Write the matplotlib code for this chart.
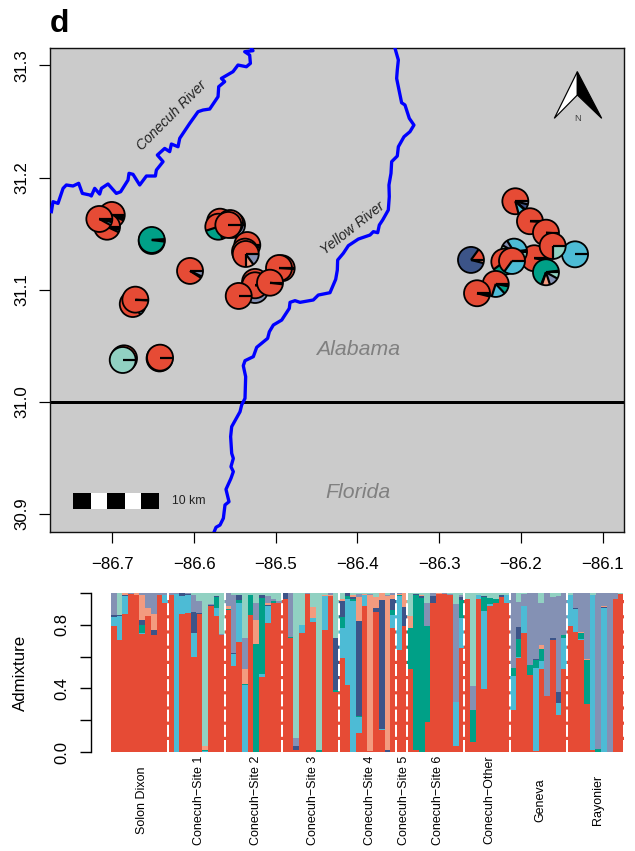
import matplotlib
matplotlib.use("Agg")
import matplotlib.pyplot as plt
import numpy as np
from matplotlib.patches import Wedge, Circle, Polygon, Rectangle
from matplotlib.lines import Line2D
from matplotlib.transforms import Affine2D, ScaledTranslation

plt.rcParams['font.family'] = ['Liberation Sans', 'DejaVu Sans']

W, H = 635, 851
colors = ['#E64B35', '#4DBBD5', '#00A087', '#3C5488', '#F39B7F', '#8491B4', '#91D1C2']

lon_ticks = [-86.7, -86.6, -86.5, -86.4, -86.3, -86.2, -86.1]
lat_ticks = [30.9, 31.0, 31.1, 31.2, 31.3]

conecuh_lon = [-86.7746, -86.7726, -86.7665, -86.7603, -86.7563, -86.7481, -86.7412, -86.7367, -86.7277, -86.7257,
               -86.7216, -86.7155, -86.7134, -86.7053, -86.6951, -86.6898, -86.6808, -86.6796, -86.6747, -86.6665,
               -86.6583, -86.6473, -86.6461, -86.6379, -86.6449, -86.6359, -86.6298, -86.6277, -86.6196, -86.6175,
               -86.6053, -86.5951, -86.5890, -86.5808, -86.5706, -86.5698, -86.5625, -86.5665, -86.5523, -86.5462,
               -86.5359, -86.5310, -86.5319, -86.5380, -86.5278, -86.5306]
conecuh_lat = [31.1696, 31.1785, 31.1770, 31.1904, 31.1934, 31.1925, 31.1949, 31.1859, 31.1845, 31.1836,
               31.1904, 31.1853, 31.1904, 31.1943, 31.1859, 31.1874, 31.1978, 31.2038, 31.2029, 31.1934,
               31.2014, 31.2014, 31.2067, 31.2142, 31.2201, 31.2260, 31.2231, 31.2299, 31.2275, 31.2350,
               31.2483, 31.2587, 31.2602, 31.2611, 31.2721, 31.2810, 31.2855, 31.2884, 31.2944, 31.3003,
               31.2988, 31.3018, 31.3092, 31.3122, 31.3131, 31.3161]

yellow_lon = [-86.3540, -86.3499, -86.3512, -86.3520, -86.3487, -86.3459, -86.3418, -86.3365, -86.3308, -86.3357,
              -86.3430, -86.3499, -86.3512, -86.3581, -86.3589, -86.3614, -86.3610, -86.3622, -86.3691, -86.3732,
              -86.3752, -86.3805, -86.3846, -86.3989, -86.4111, -86.4173, -86.4242, -86.4246, -86.4266,
              -86.4336, -86.4479, -86.4540, -86.4703, -86.4764, -86.4825, -86.4834, -86.4927, -86.5029, -86.5078,
              -86.5099, -86.5233, -86.5274, -86.5376, -86.5397, -86.5368, -86.5376, -86.5417, -86.5437, -86.5539,
              -86.5552, -86.5539, -86.5519, -86.5548, -86.5519, -86.5548, -86.5609, -86.5572, -86.5621, -86.5641,
              -86.5682, -86.5731, -86.5756]
yellow_lat = [31.3152, 31.3048, 31.2959, 31.2884, 31.2766, 31.2667, 31.2647, 31.2528, 31.2468, 31.2409,
              31.2364, 31.2275, 31.2192, 31.2142, 31.2038, 31.1934, 31.1830, 31.1711, 31.1622, 31.1577,
              31.1509, 31.1518, 31.1488, 31.1452, 31.1393, 31.1325, 31.1265, 31.1176, 31.1093,
              31.0974, 31.0953, 31.0909, 31.0888, 31.0903, 31.0888, 31.0834, 31.0730, 31.0686, 31.0626,
              31.0567, 31.0487, 31.0404, 31.0368, 31.0323, 31.0225, 31.0032, 30.9973, 30.9913, 30.9780,
              30.9691, 30.9542, 30.9497, 30.9423, 30.9379, 30.9319, 30.9221, 30.9111, 30.9082, 30.8963,
              30.8903, 30.8883, 30.8838]

# pies, drawn in this order: lon, lat, shares (7 ancestry clusters)
pie_lon = [-86.7007, -86.7065, -86.7159, -86.6518, -86.6518, -86.6049, -86.6750, -86.6718, -86.6857, -86.6873,
           -86.6422, -86.6416, -86.5682, -86.5535, -86.5559, -86.5703, -86.5580, -86.5348, -86.5376, -86.5367,
           -86.5253, -86.5253, -86.5253, -86.4927, -86.4960, -86.5070, -86.5453,
           -86.1336, -86.2067, -86.1888, -86.1692, -86.1835, -86.1610, -86.2083, -86.2202, -86.2108, -86.1692,
           -86.2307, -86.2536, -86.2610]
pie_lat = [31.1667, 31.1562, 31.1631, 31.1435, 31.1444, 31.1168, 31.0873, 31.0912, 31.0389, 31.0374,
           31.0388, 31.0395, 31.1607, 31.1578, 31.1595, 31.1562, 31.1578, 31.1399, 31.1340, 31.1319,
           31.0998, 31.1070, 31.1040, 31.1192, 31.1194, 31.1063, 31.0945,
           31.1316, 31.1789, 31.1611, 31.1509, 31.1281, 31.1390, 31.1340, 31.1250, 31.1257, 31.1156,
           31.1052, 31.0969, 31.1266]
pie_shares = [
    [.93, 0, .02, .02, 0, 0, .03], [.93, .03, 0, 0, 0, .02, .02], [.92, .04, 0, .01, 0, .03, 0],
    [.01, 0, .99, 0, 0, 0, 0], [.01, 0, .97, 0, 0, 0, .02], [.91, 0, 0, .02, 0, .07, 0],
    [.85, .05, 0, 0, 0, .10, 0], [.99, 0, 0, 0, 0, .01, 0], [.99, 0, 0, 0, 0, .01, 0], [0, 0, 0, 0, 0, 0, 1],
    [1, 0, 0, 0, 0, 0, 0], [1, 0, 0, 0, 0, 0, 0], [.9, 0, 0, 0, 0, .1, 0], [.8, 0, 0, 0, 0, .2, 0],
    [.95, .05, 0, 0, 0, 0, 0], [.55, 0, .25, 0, 0, .2, 0], [1, 0, 0, 0, 0, 0, 0], [.97, 0, 0, 0, 0, .03, 0],
    [.97, 0, 0, 0, 0, .03, 0], [.75, 0, 0, 0, .10, .15, 0],
    [.6, 0, 0, 0, 0, .4, 0], [.98, 0, 0, 0, 0, .02, 0], [.98, 0, 0, 0, 0, .02, 0],
    [.99, 0, 0, 0, 0, .01, 0], [.99, 0, 0, 0, 0, .01, 0], [.98, 0, 0, 0, 0, .02, 0], [1, 0, 0, 0, 0, 0, 0],
    [0, 1, 0, 0, 0, 0, 0], [.79, .09, .01, .07, 0, .04, 0], [.99, 0, 0, 0, 0, .01, 0], [.99, 0, 0, 0, 0, .01, 0],
    [.97, 0, 0, 0, 0, .03, 0], [.75, 0, 0, 0, 0, 0, .25], [.02, .32, 0, 0, 0, .08, .58], [.6, 0, .4, 0, 0, 0, 0],
    [.65, .35, 0, 0, 0, 0, 0], [.01, .01, .67, .01, .10, .12, .08], [.70, .17, .10, .03, 0, 0, 0],
    [.96, 0, .02, .01, .01, 0, 0], [.15, 0, 0, .81, .04, 0, 0]]

# admixture barplot, one row per individual: red, blue, green, navy, salmon, periwinkle, mint
solon_dixon = [[79, 6, 0, 1, 0, 14, 0], [70.5, 15, 0, .5, 0, 0, 14], [87, 11, 0, .5, 1.5, 0, 0], [99.4, 0, 0, 0, 0, .6, 0],
               [99, 0, 0, 0, 1, 0, 0], [74, 1, 5, 3, 16, 1, 0], [85.5, 0, 0, 0, 5, 9.5, 0], [73.5, 0, 0, 3, 10, 13.5, 0],
               [99, 0, 0, 0, 0, 1, 0], [94, 5, 0, 0, 0, 1, 0]]
site_1 = [[99, 0, 0, 0, 0, 1, 0], [0, 99.5, 0, 0, 0, .5, 0], [87, 11, 0, 2, 0, 0, 0], [87.5, 11, 0, 1, 0, .5, 0],
          [60, 15, 0, 13, 0, 11, 1], [87, 0, 0, .5, 0, 7.5, 5], [0, .5, .5, 0, 3, 0, 96], [92, 0, 0, .5, 0, .5, 7],
          [85.5, 5, 7, .5, 0, 0, 2], [73.5, 0, 0, 0, 0, .5, 26]]
site_2 = [[89.5, 0, .5, 0, 2, 8, 0], [54, 7.5, 0, 1, 0, 36.5, 1], [69, 24.5, 2, 3.5, 0, 0, 1], [0, 42, 1, 0, 9.5, 19.5, 28],
          [86, 0, 12.5, 0, 0, 0, 1.5], [0, 0, 68, 0, 15, 11, 6], [47, 2, 48, 2, 0, 0, 1], [81, 11, 0, .5, 1, 4.5, 2],
          [94, 0, 1, 0, 0, 1, 4], [94, 0, 0, 0, 0, 1, 5]]
site_3 = [[96, 0, .5, 3.5, 0, 0, 0], [72, 0, .5, 0, 0, 27.5, 0], [1.5, 0, 0, 2, 0, 5, 91.5], [75, 5, 0, 0, 0, 0, 20],
          [99.5, 0, 0, 0, 0, .5, 0], [82, 2, 0, 0, 7, 0, 9], [0, 0, 1, 0, 0, 0, 99], [77, 21, 0, 0, 1, 0, 1],
          [98, 0, 0, 0, 1, 1, 0], [38, 0, 1, 33, 0, 0, 28]]
site_4 = [[59, 19, 7, 10, 1, 0, 4], [42, 54, 2, 2, 0, 0, 0], [0, 95, 1.5, 1, 1, .5, 1], [12, 10, .5, 60, 15, 2, .5],
          [92, 6.5, 0, 0, 1, 0, .5], [.5, 0, 0, 0, 98, 1, .5], [88, 0, 0, 2.5, 7, 0, 2.5], [14, .5, 0, 81, 4.5, 0, 0],
          [0, 0, 0, 1, 97, 1, 1], [78, 8, 3, 7, 3, 1, 0]]
site_5 = [[64, 34, .5, 0, 1, .5, 0], [79, 0, 0, 12, 9, 0, 0]]
site_6 = [[52, 0, 26, 0, 7.5, 0, 14.5], [1, 0, 97.5, 1, 0, 0, .5], [0, 0, 97, 1, 1, 0, 1], [19, 0, 60, .5, 0, 14, 6.5],
          [94, 0, 0, 4, 0, 2, 0], [99.5, 0, 0, 0, .5, 0, 0], [99.5, 0, 0, 0, 0, .5, 0], [98.5, 0, 0, 0, 0, 1, .5],
          [4, 27.5, 0, 0, 0, 61.5, 7], [65.5, 19, 11, 2, 0, 1, 1.5]]
site_other = [[96, 0, 0, 0, 0, 0, 4], [6, 0, 20.5, 0, 0, 15, 58.5], [96.5, 2, 0, .5, 0, 0, 1], [39.5, 49, 9, .5, 0, 0, 2],
              [92, 1, 4, 0, 0, 0, 3], [94, 0, 2, 0, 0, 0, 4], [97.5, 0, 0, 1, .5, 0, 1], [94, 5, 0, 0, 0, 0, 1]]
geneva = [[26.5, 21, 5.5, 0, 0, 47, 0], [59, 1, 11, 7.5, 0, 16, 5.5], [75, 17, 0, 0, 0, 7.4, .6], [48.5, 0, 6.5, 0, 0, 45, 0],
          [.8, 52, 5, .5, 0, 41.7, 0], [52, 5.5, 7.5, 0, 2, 26.5, 6.5], [35, 0, 0, 0, .5, 64.5, 0], [70.5, 0, 0, 1, .5, 25.5, 2.5],
          [23, 8, 0, 7, 0, 60, 2], [52.5, 19, 2, 0, 0, 26.5, 0]]
rayonier = [[79, 20, 0, 0, 0, 0, 1], [75.5, 14.5, 0, .5, 0, 9.5, 0], [70.5, .5, 4, 0, .5, 24.5, 0], [30, 0, 28, 0, .5, 41.5, 0],
            [1.5, 97, 0, 0, 0, .5, 1], [0, 0, 2, 0, 0, 98, 0], [0, 90.5, 0, .5, 1, 8, 0], [0, 0, 0, 0, 0, 100, 0],
            [96, 0, 0, .5, 0, 3.5, 0], [99.5, 0, 0, 0, 0, 0, .5]]

groups = [solon_dixon, site_1, site_2, site_3, site_4, site_5, site_6, site_other, geneva, rayonier]
group_names = ['Solon Dixon', 'Conecuh\u2212Site 1', 'Conecuh\u2212Site 2', 'Conecuh\u2212Site 3', 'Conecuh\u2212Site 4',
               'Conecuh\u2212Site 5', 'Conecuh\u2212Site 6', 'Conecuh\u2212Other', 'Geneva', 'Rayonier']

# annotation geometry in map coordinates
north_lon = [-86.1308, -86.1590, -86.1010]
north_lat = [31.2944, 31.2528, 31.2736]
bar_edges_lon = [-86.7485, -86.7261, -86.7069, -86.6841, -86.6649, -86.6425]
bar_lat = [30.9044, 30.9186]

fig = plt.figure(figsize=(W / 100, H / 100), dpi=100)


def axes_px(l, t, r, b):
    return fig.add_axes([l / W, 1 - b / H, (r - l) / W, (b - t) / H])


px = 0.72  # points per pixel at 100 dpi

# ---- map
ax = axes_px(50, 48, 624, 532)
ax.set_facecolor('#CBCBCB')
ax.set_xlim(-86.7763, -86.0737)
ax.set_ylim(30.8841, 31.3155)
for s in ax.spines.values():
    s.set_linewidth(1.4 * px)
    s.set_color('#111111')
ax.set_xticks(lon_ticks)
ax.set_xticklabels([f'\u2212{abs(v):.1f}' for v in lon_ticks], fontsize=12.2)
ax.set_yticks(lat_ticks)
ax.set_yticklabels([f'{v:.1f}' for v in lat_ticks], fontsize=12.2, rotation=90, va='center')
ax.tick_params(axis='x', length=10.7 * px, width=1.2 * px, pad=10)
ax.tick_params(axis='y', length=10.7 * px, width=1.2 * px, pad=7.2)

ax.axhline(31.0, color='black', lw=3 * px, zorder=2)
ax.plot(conecuh_lon, conecuh_lat, color='#0000FF', lw=3.3 * px, zorder=3, solid_joinstyle='round')
ax.plot(yellow_lon, yellow_lat, color='#0000FF', lw=3.3 * px, zorder=3, solid_joinstyle='round')

ax.text(-86.6269, 31.2549, 'Conecuh River', rotation=45, style='italic', fontsize=10, color='#222222',
        ha='center', va='center', rotation_mode='anchor', zorder=4)
ax.text(-86.4054, 31.1551, 'Yellow River', rotation=38, style='italic', fontsize=10, color='#222222',
        ha='center', va='center', rotation_mode='anchor', zorder=4)
ax.text(-86.3993, 31.0472, 'Alabama', style='italic', fontsize=15.3, color='#808080', ha='center', va='center', zorder=4)
ax.text(-86.3993, 30.9189, 'Florida', style='italic', fontsize=15.3, color='#808080', ha='center', va='center', zorder=4)

# pies
R = 13.0
z = 5
for lon, lat, share in zip(pie_lon, pie_lat, pie_shares):
    tr = Affine2D().scale(R) + ScaledTranslation(lon, lat, ax.transData)
    share = np.asarray(share, float)
    share = share / share.sum()
    angle = 0.0
    bounds = []
    for c, s in zip(colors, share):
        if s <= 0:
            continue
        ax.add_patch(Wedge((0, 0), 1, angle, angle + 360 * s, facecolor=c, edgecolor='none', transform=tr, zorder=z))
        bounds.append(angle)
        angle += 360 * s
    for b in bounds:
        a = np.deg2rad(b)
        ax.add_line(Line2D([0, np.cos(a)], [0, np.sin(a)], color='black', lw=2.2 * px, transform=tr, zorder=z,
                           solid_capstyle='butt'))
    ax.add_patch(Circle((0, 0), 1, facecolor='none', edgecolor='black', lw=1.8 * px, transform=tr, zorder=z))
    z += 0.01

# north arrow
apex = (north_lon[0], north_lat[0])
inner = (north_lon[0], north_lat[2])
ax.add_patch(Polygon([apex, (north_lon[1], north_lat[1]), inner], closed=True, facecolor='white', edgecolor='black',
                     lw=1.2 * px, zorder=6))
ax.add_patch(Polygon([apex, (north_lon[2], north_lat[1]), inner], closed=True, facecolor='black', edgecolor='black',
                     lw=1.2 * px, zorder=6))
ax.text(north_lon[0], north_lat[1], 'N', fontsize=6.8, color='#444444', ha='center', va='center', zorder=6)

# scale bar
for i in range(5):
    ax.add_patch(Rectangle((bar_edges_lon[i], bar_lat[0]), bar_edges_lon[i + 1] - bar_edges_lon[i], bar_lat[1] - bar_lat[0],
                           facecolor='black' if i % 2 == 0 else 'white', edgecolor='none', zorder=6))
ax.text(-86.6265, 30.9115, '10 km', fontsize=8.8, color='#222222', ha='left', va='center', zorder=6)

fig.text(50 / W, 1 - 32 / H, 'd', fontsize=23, fontweight='bold', ha='left', va='baseline')

# ---- admixture bars
bx = axes_px(111, 593, 624, 752)
rows = np.array([r for g in groups for r in g], float)
rows = rows / rows.sum(axis=1, keepdims=True)
n = len(rows)
xs = np.arange(n) + 0.5
bottom = np.zeros(n)
for k, c in enumerate(colors):
    bx.bar(xs, rows[:, k], bottom=bottom, width=1.02, color=c, linewidth=0)
    bottom += rows[:, k]
bx.set_xlim(0, n)
bx.set_ylim(0, 1)
for side in ['top', 'right', 'bottom']:
    bx.spines[side].set_visible(False)
bx.spines['left'].set_position(('outward', 20.3 * px))
bx.spines['left'].set_bounds(0, 1)
bx.spines['left'].set_linewidth(1.4 * px)
bx.set_yticks([0, .2, .4, .6, .8, 1.0])
bx.set_yticklabels(['0.0', '', '0.4', '', '0.8', ''], fontsize=12, rotation=90, va='center')
bx.tick_params(axis='y', length=10.7 * px, width=1.4 * px, pad=7.3)

sizes = [len(g) for g in groups]
ends = np.cumsum(sizes)
starts = ends - np.array(sizes)
for e in ends:
    bx.plot([e, e], [0, 1], color='white', lw=2 * px, linestyle=(0, (6, 1.6)), clip_on=False, zorder=3)
bx.set_xticks([])
for pos, name in zip((starts + ends) / 2, group_names):
    bx.annotate(name, xy=(pos, 0), xycoords=('data', 'axes fraction'), xytext=(1.5, -48 * px), textcoords='offset points',
                rotation=90, fontsize=9, ha='center', va='center', annotation_clip=False)

fig.text(20 / W, 1 - 673 / H, 'Admixture', rotation=90, fontsize=12.2, ha='center', va='center')

fig.savefig('out.png', dpi=100)
